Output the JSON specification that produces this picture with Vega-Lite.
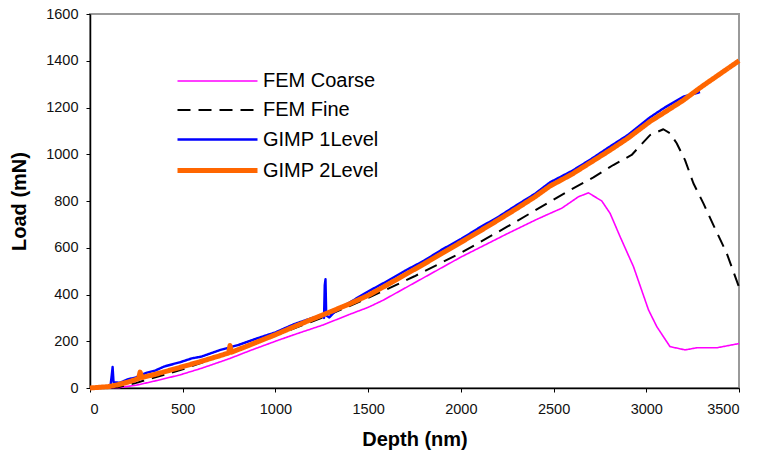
{
  "$schema": "https://vega.github.io/schema/vega-lite/v6.json",
  "width": 649,
  "height": 374,
  "autosize": {"type": "none"},
  "padding": {"left": 90, "top": 14, "right": 22, "bottom": 70},
  "background": "white",
  "config": {
    "font": "Liberation Sans",
    "view": {"stroke": "#9a9a9a", "strokeWidth": 2},
    "axis": {"grid": false, "domainColor": "#000", "domainWidth": 1.5, "tickColor": "#000", "tickSize": 4, "labelFont": "Liberation Sans", "labelFontSize": 14.5, "labelColor": "#111", "titleFont": "Liberation Sans", "titleFontSize": 20, "titleFontWeight": "bold", "titleColor": "#000", "format": "d"}
  },
  "data": {"values": [
    {"series": "FEM Coarse", "depth": 0, "load": 0},
    {"series": "FEM Coarse", "depth": 150, "load": 1},
    {"series": "FEM Coarse", "depth": 250, "load": 12},
    {"series": "FEM Coarse", "depth": 350, "load": 30},
    {"series": "FEM Coarse", "depth": 485, "load": 56},
    {"series": "FEM Coarse", "depth": 600, "load": 84},
    {"series": "FEM Coarse", "depth": 750, "load": 125},
    {"series": "FEM Coarse", "depth": 863, "load": 160},
    {"series": "FEM Coarse", "depth": 1000, "load": 200},
    {"series": "FEM Coarse", "depth": 1100, "load": 228},
    {"series": "FEM Coarse", "depth": 1258, "load": 270},
    {"series": "FEM Coarse", "depth": 1400, "load": 315},
    {"series": "FEM Coarse", "depth": 1500, "load": 345},
    {"series": "FEM Coarse", "depth": 1582, "load": 376},
    {"series": "FEM Coarse", "depth": 1750, "load": 450},
    {"series": "FEM Coarse", "depth": 2000, "load": 560},
    {"series": "FEM Coarse", "depth": 2250, "load": 660},
    {"series": "FEM Coarse", "depth": 2400, "load": 718},
    {"series": "FEM Coarse", "depth": 2481, "load": 747},
    {"series": "FEM Coarse", "depth": 2544, "load": 769},
    {"series": "FEM Coarse", "depth": 2634, "load": 818},
    {"series": "FEM Coarse", "depth": 2688, "load": 835},
    {"series": "FEM Coarse", "depth": 2760, "load": 800},
    {"series": "FEM Coarse", "depth": 2805, "load": 747},
    {"series": "FEM Coarse", "depth": 2859, "load": 647},
    {"series": "FEM Coarse", "depth": 2931, "load": 519},
    {"series": "FEM Coarse", "depth": 3012, "load": 334},
    {"series": "FEM Coarse", "depth": 3057, "load": 262},
    {"series": "FEM Coarse", "depth": 3128, "load": 177},
    {"series": "FEM Coarse", "depth": 3209, "load": 163},
    {"series": "FEM Coarse", "depth": 3272, "load": 172},
    {"series": "FEM Coarse", "depth": 3380, "load": 172},
    {"series": "FEM Coarse", "depth": 3500, "load": 190},
    {"series": "FEM Fine", "depth": 0, "load": 0},
    {"series": "FEM Fine", "depth": 150, "load": 3},
    {"series": "FEM Fine", "depth": 250, "load": 22},
    {"series": "FEM Fine", "depth": 500, "load": 80},
    {"series": "FEM Fine", "depth": 750, "load": 150},
    {"series": "FEM Fine", "depth": 1000, "load": 225},
    {"series": "FEM Fine", "depth": 1250, "load": 300},
    {"series": "FEM Fine", "depth": 1500, "load": 385},
    {"series": "FEM Fine", "depth": 1750, "load": 478},
    {"series": "FEM Fine", "depth": 2000, "load": 578},
    {"series": "FEM Fine", "depth": 2250, "load": 690},
    {"series": "FEM Fine", "depth": 2481, "load": 797},
    {"series": "FEM Fine", "depth": 2589, "load": 847},
    {"series": "FEM Fine", "depth": 2715, "load": 901},
    {"series": "FEM Fine", "depth": 2822, "load": 954},
    {"series": "FEM Fine", "depth": 2921, "load": 997},
    {"series": "FEM Fine", "depth": 3020, "load": 1082},
    {"series": "FEM Fine", "depth": 3092, "load": 1107},
    {"series": "FEM Fine", "depth": 3128, "load": 1090},
    {"series": "FEM Fine", "depth": 3164, "load": 1047},
    {"series": "FEM Fine", "depth": 3209, "load": 975},
    {"series": "FEM Fine", "depth": 3254, "load": 876},
    {"series": "FEM Fine", "depth": 3308, "load": 790},
    {"series": "FEM Fine", "depth": 3362, "load": 697},
    {"series": "FEM Fine", "depth": 3434, "load": 576},
    {"series": "FEM Fine", "depth": 3500, "load": 432},
    {"series": "GIMP 1Level", "depth": 0, "load": 0},
    {"series": "GIMP 1Level", "depth": 60, "load": 2},
    {"series": "GIMP 1Level", "depth": 110, "load": 6},
    {"series": "GIMP 1Level", "depth": 118, "load": 60},
    {"series": "GIMP 1Level", "depth": 122, "load": 90},
    {"series": "GIMP 1Level", "depth": 127, "load": 25},
    {"series": "GIMP 1Level", "depth": 160, "load": 22},
    {"series": "GIMP 1Level", "depth": 200, "load": 36},
    {"series": "GIMP 1Level", "depth": 250, "load": 46},
    {"series": "GIMP 1Level", "depth": 300, "load": 64},
    {"series": "GIMP 1Level", "depth": 350, "load": 74},
    {"series": "GIMP 1Level", "depth": 400, "load": 92},
    {"series": "GIMP 1Level", "depth": 485, "load": 110},
    {"series": "GIMP 1Level", "depth": 550, "load": 127},
    {"series": "GIMP 1Level", "depth": 600, "load": 134},
    {"series": "GIMP 1Level", "depth": 700, "load": 162},
    {"series": "GIMP 1Level", "depth": 800, "load": 184},
    {"series": "GIMP 1Level", "depth": 900, "load": 212},
    {"series": "GIMP 1Level", "depth": 1000, "load": 238},
    {"series": "GIMP 1Level", "depth": 1100, "load": 273},
    {"series": "GIMP 1Level", "depth": 1200, "load": 300},
    {"series": "GIMP 1Level", "depth": 1255, "load": 306},
    {"series": "GIMP 1Level", "depth": 1262, "load": 300},
    {"series": "GIMP 1Level", "depth": 1266, "load": 440},
    {"series": "GIMP 1Level", "depth": 1270, "load": 465},
    {"series": "GIMP 1Level", "depth": 1274, "load": 310},
    {"series": "GIMP 1Level", "depth": 1290, "load": 302},
    {"series": "GIMP 1Level", "depth": 1320, "load": 326},
    {"series": "GIMP 1Level", "depth": 1400, "load": 366},
    {"series": "GIMP 1Level", "depth": 1500, "load": 413},
    {"series": "GIMP 1Level", "depth": 1600, "load": 456},
    {"series": "GIMP 1Level", "depth": 1700, "load": 502},
    {"series": "GIMP 1Level", "depth": 1800, "load": 544},
    {"series": "GIMP 1Level", "depth": 1900, "load": 593},
    {"series": "GIMP 1Level", "depth": 2000, "load": 637},
    {"series": "GIMP 1Level", "depth": 2100, "load": 686},
    {"series": "GIMP 1Level", "depth": 2200, "load": 731},
    {"series": "GIMP 1Level", "depth": 2300, "load": 782},
    {"series": "GIMP 1Level", "depth": 2400, "load": 831},
    {"series": "GIMP 1Level", "depth": 2481, "load": 880},
    {"series": "GIMP 1Level", "depth": 2600, "load": 929},
    {"series": "GIMP 1Level", "depth": 2700, "load": 978},
    {"series": "GIMP 1Level", "depth": 2800, "load": 1031},
    {"series": "GIMP 1Level", "depth": 2900, "load": 1082},
    {"series": "GIMP 1Level", "depth": 3020, "load": 1158},
    {"series": "GIMP 1Level", "depth": 3100, "load": 1200},
    {"series": "GIMP 1Level", "depth": 3200, "load": 1246},
    {"series": "GIMP 1Level", "depth": 3290, "load": 1266},
    {"series": "GIMP 2Level", "depth": 0, "load": 0},
    {"series": "GIMP 2Level", "depth": 50, "load": 3},
    {"series": "GIMP 2Level", "depth": 100, "load": 6},
    {"series": "GIMP 2Level", "depth": 150, "load": 14},
    {"series": "GIMP 2Level", "depth": 200, "load": 24},
    {"series": "GIMP 2Level", "depth": 262, "load": 40},
    {"series": "GIMP 2Level", "depth": 270, "load": 68},
    {"series": "GIMP 2Level", "depth": 280, "load": 45},
    {"series": "GIMP 2Level", "depth": 350, "load": 58},
    {"series": "GIMP 2Level", "depth": 485, "load": 88},
    {"series": "GIMP 2Level", "depth": 600, "load": 114},
    {"series": "GIMP 2Level", "depth": 700, "load": 138},
    {"series": "GIMP 2Level", "depth": 748, "load": 150},
    {"series": "GIMP 2Level", "depth": 755, "load": 182},
    {"series": "GIMP 2Level", "depth": 762, "load": 153},
    {"series": "GIMP 2Level", "depth": 850, "load": 180},
    {"series": "GIMP 2Level", "depth": 1000, "load": 228},
    {"series": "GIMP 2Level", "depth": 1100, "load": 262},
    {"series": "GIMP 2Level", "depth": 1200, "load": 295},
    {"series": "GIMP 2Level", "depth": 1278, "load": 320},
    {"series": "GIMP 2Level", "depth": 1400, "load": 360},
    {"series": "GIMP 2Level", "depth": 1500, "load": 396},
    {"series": "GIMP 2Level", "depth": 1600, "load": 440},
    {"series": "GIMP 2Level", "depth": 1700, "load": 485},
    {"series": "GIMP 2Level", "depth": 1800, "load": 530},
    {"series": "GIMP 2Level", "depth": 1900, "load": 577},
    {"series": "GIMP 2Level", "depth": 2000, "load": 623},
    {"series": "GIMP 2Level", "depth": 2100, "load": 670},
    {"series": "GIMP 2Level", "depth": 2200, "load": 718},
    {"series": "GIMP 2Level", "depth": 2300, "load": 767},
    {"series": "GIMP 2Level", "depth": 2400, "load": 818},
    {"series": "GIMP 2Level", "depth": 2481, "load": 864},
    {"series": "GIMP 2Level", "depth": 2600, "load": 915},
    {"series": "GIMP 2Level", "depth": 2700, "load": 965},
    {"series": "GIMP 2Level", "depth": 2800, "load": 1015},
    {"series": "GIMP 2Level", "depth": 2900, "load": 1068},
    {"series": "GIMP 2Level", "depth": 3020, "load": 1140},
    {"series": "GIMP 2Level", "depth": 3100, "load": 1180},
    {"series": "GIMP 2Level", "depth": 3198, "load": 1230},
    {"series": "GIMP 2Level", "depth": 3300, "load": 1290},
    {"series": "GIMP 2Level", "depth": 3400, "load": 1345},
    {"series": "GIMP 2Level", "depth": 3500, "load": 1400}
  ]},
  "mark": {"type": "line", "strokeCap": "butt", "strokeJoin": "round"},
  "encoding": {
    "x": {"field": "depth", "type": "quantitative", "title": "Depth (nm)", "scale": {"domain": [0, 3500], "nice": false}, "axis": {"values": [0, 500, 1000, 1500, 2000, 2500, 3000, 3500], "labelPadding": 10, "titlePadding": 14}},
    "y": {"field": "load", "type": "quantitative", "title": "Load (mN)", "scale": {"domain": [0, 1600], "nice": false}, "axis": {"values": [0, 200, 400, 600, 800, 1000, 1200, 1400, 1600], "labelPadding": 8, "titlePadding": 16}},
    "order": {"field": "depth", "type": "quantitative"},
    "color": {"field": "series", "type": "nominal", "title": null,
      "scale": {"domain": ["FEM Coarse", "FEM Fine", "GIMP 1Level", "GIMP 2Level"], "range": ["#ff00ff", "#000000", "#0000ff", "#ff6600"]},
      "legend": {"orient": "none", "legendX": 115, "legendY": 56, "symbolType": "M-4,0H4", "symbolSize": 400, "labelFontSize": 20, "labelFont": "Liberation Sans", "labelColor": "#000", "rowPadding": 8, "labelOffset": 33}},
    "strokeDash": {"field": "series", "type": "nominal", "title": null,
      "scale": {"domain": ["FEM Coarse", "FEM Fine", "GIMP 1Level", "GIMP 2Level"], "range": [[1, 0], [13, 8], [1, 0], [1, 0]]}},
    "strokeWidth": {"field": "series", "type": "nominal", "title": null,
      "scale": {"type": "ordinal", "domain": ["FEM Coarse", "FEM Fine", "GIMP 1Level", "GIMP 2Level"], "range": [1.6, 2, 2.4, 5]}}
  }
}
